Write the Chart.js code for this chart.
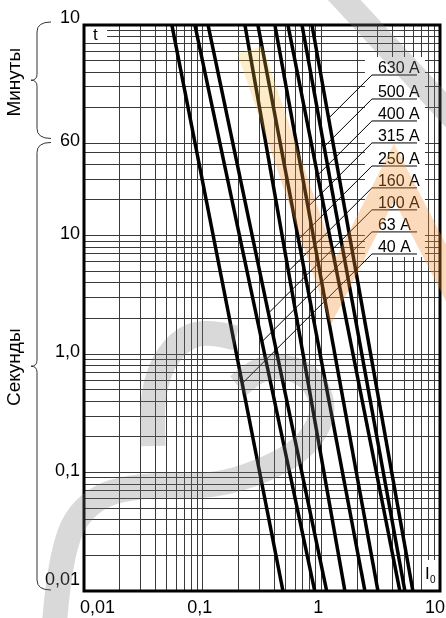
<!DOCTYPE html>
<html>
<head>
<meta charset="utf-8">
<script src="https://cdn.jsdelivr.net/npm/chart.js@4.4.1/dist/chart.umd.min.js"></script>
<style>
  html, body { margin: 0; padding: 0; background: #fff; }
  #wrap { width: 446px; height: 618px; }
</style>
</head>
<body>
<div id="wrap"><canvas id="chart" width="446" height="618"></canvas></div>
<script>
// Axis ranges: current in kA, time in seconds (600 s = 10 min)
const currentRange = [0.01, 10];
const timeRange = [0.01, 600];

// Melting curves: current (kA) at each time in curveTimes
const curveTimes = [600, 0.01];
const cur40 = [0.055, 0.475];
const cur63 = [0.086, 0.88];
const cur100 = [0.111, 1.11];
const cur160 = [0.227, 1.58];
const cur250 = [0.292, 2.33];
const cur315 = [0.406, 3.0];
const cur400 = [0.523, 4.59];
const cur500 = [0.687, 5.06];
const cur630 = [0.834, 5.91];

const ratingNames = ['40 A', '63 A', '100 A', '160 A', '250 A', '315 A', '400 A', '500 A', '630 A'];
const ratingCurves = [cur40, cur63, cur100, cur160, cur250, cur315, cur400, cur500, cur630];

// Label anchors (leader start on the underline) in data units
const labelTimes = [7.0, 10.75, 16.5, 25.3, 38.7, 60.6, 92.9, 142.4, 227];
const labelCurrent = 2.67;
const labelEndCurrent = 6.4;

// Tick labels
const xTickValues = [0.01, 0.1, 1, 10];
const xTickLabels = ['0,01', '0,1', '1', '10'];
const yTickValues = [600, 60, 10, 1, 0.1, 0.01];
const yTickLabels = ['10', '60', '10', '1,0', '0,1', '0,01'];

// Grid lines
const xGrid = [];
[0.01, 0.1, 1].forEach(d => { for (let m = 1; m <= 9; m++) xGrid.push(+(m * d).toPrecision(3)); });
xGrid.push(10);
const yGrid = [];
[0.01, 0.1, 1].forEach(d => { for (let m = 1; m <= 9; m++) yGrid.push(+(m * d).toPrecision(3)); });
[10, 20, 30, 40, 50].forEach(v => yGrid.push(v));
for (let m = 1; m <= 10; m++) yGrid.push(m * 60);

const FONT = '"Liberation Sans", Arial, sans-serif';

// where the 45-degree leader from (I, t) hits a curve (piecewise straight in log-log)
function leaderHit(curve, I, t) {
  const c = Math.log10(I) - Math.log10(t);
  for (let k = 0; k < curve.length - 1; k++) {
    const u0 = Math.log10(curveTimes[k]), u1 = Math.log10(curveTimes[k + 1]);
    const v0 = Math.log10(curve[k]), v1 = Math.log10(curve[k + 1]);
    const b = (v1 - v0) / (u1 - u0);
    const u = (c - v0 + b * u0) / (b - 1);
    if ((u - u0) * (u - u1) <= 0) {
      return { x: Math.pow(10, u + c), y: Math.pow(10, u) };
    }
  }
  return { x: I, y: t };
}

const datasets = [];
ratingCurves.forEach(curve => {
  datasets.push({
    data: curve.map((v, k) => ({ x: v, y: curveTimes[k] })),
    borderColor: '#000',
    borderWidth: 3.5,
    pointRadius: 0,
    borderCapStyle: 'butt'
  });
});
ratingCurves.forEach((curve, i) => {
  const hit = leaderHit(curve, labelCurrent, labelTimes[i]);
  datasets.push({
    data: [{ x: labelEndCurrent, y: labelTimes[i] }, { x: labelCurrent, y: labelTimes[i] }, hit],
    borderColor: '#000',
    borderWidth: 1,
    pointRadius: 0
  });
});

// smooth stroke through a list of points (watermark)
function smoothStroke(ctx, pts) {
  ctx.beginPath();
  ctx.moveTo(pts[0][0], pts[0][1]);
  for (let k = 1; k < pts.length - 1; k++) {
    const mx = (pts[k][0] + pts[k + 1][0]) / 2, my = (pts[k][1] + pts[k + 1][1]) / 2;
    ctx.quadraticCurveTo(pts[k][0], pts[k][1], mx, my);
  }
  const last = pts[pts.length - 1];
  ctx.lineTo(last[0], last[1]);
  ctx.stroke();
}

const decor = {
  id: 'decor',
  beforeDatasetsDraw(chart) {
    const { ctx, chartArea: a, scales: { x, y } } = chart;
    ctx.save();
    ctx.fillStyle = '#fff';
    // box behind the rating labels
    const lx = x.getPixelForValue(labelCurrent);
    const yTop = y.getPixelForValue(labelTimes[labelTimes.length - 1]) - 18;
    const yBot = y.getPixelForValue(labelTimes[0]) + 3;
    ctx.fillRect(lx - 7, yTop, 60, yBot - yTop);
    // box behind t and I0
    ctx.fillRect(a.left, a.top, 23, 15);
    ctx.fillRect(a.right - 17, a.bottom - 31, 17, 31);
    ctx.restore();
  },
  afterDatasetsDraw(chart) {
    const { ctx, chartArea: a, scales: { x, y } } = chart;
    ctx.save();
    // frame
    ctx.strokeStyle = '#000';
    ctx.lineWidth = 3;
    ctx.strokeRect(a.left, a.top, a.right - a.left, a.bottom - a.top);

    ctx.fillStyle = '#000';
    // rating labels
    ctx.font = '16px ' + FONT;
    ctx.textAlign = 'left';
    ctx.textBaseline = 'alphabetic';
    const lx = x.getPixelForValue(labelCurrent);
    ratingNames.forEach((n, i) => {
      ctx.fillText(n, lx + 6, y.getPixelForValue(labelTimes[i]) - 2);
    });

    // axis tick labels
    ctx.font = '18px ' + FONT;
    ctx.textBaseline = 'middle';
    xTickValues.forEach((v, i) => {
      let px = x.getPixelForValue(v);
      if (i === 0) { ctx.textAlign = 'left'; px -= 4; }
      else if (i === xTickValues.length - 1) { ctx.textAlign = 'right'; px += 5; }
      else { ctx.textAlign = 'center'; px -= 3; }
      ctx.fillText(xTickLabels[i], px, a.bottom + 17);
    });
    ctx.textAlign = 'right';
    yTickValues.forEach((v, i) => {
      let py = y.getPixelForValue(v);
      if (i === 0) py -= 7;
      else if (i === yTickValues.length - 1) py -= 11;
      else py -= 2;
      ctx.fillText(yTickLabels[i], a.left - 4, py);
    });

    // t and I0
    ctx.font = '17px ' + FONT;
    ctx.textAlign = 'left';
    ctx.fillText('t', a.left + 9, a.top + 10);
    ctx.fillText('I', a.right - 15, a.bottom - 17);
    ctx.font = '10px ' + FONT;
    ctx.fillText('0', a.right - 10, a.bottom - 11);

    // braces
    ctx.strokeStyle = '#333';
    ctx.lineWidth = 1;
    const bx = 37, ex = 51, tip = 31;
    function brace(y0, y1) {
      const m = (y0 + y1) / 2;
      ctx.beginPath();
      ctx.moveTo(ex, y0);
      ctx.quadraticCurveTo(bx, y0, bx, y0 + 10);
      ctx.lineTo(bx, m - 6);
      ctx.quadraticCurveTo(bx, m, tip, m);
      ctx.quadraticCurveTo(bx, m, bx, m + 6);
      ctx.lineTo(bx, y1 - 10);
      ctx.quadraticCurveTo(bx, y1, ex, y1);
      ctx.stroke();
    }
    const yMin = y.getPixelForValue(60);
    brace(y.getPixelForValue(600) - 3, yMin - 5);
    brace(yMin - 1, y.getPixelForValue(0.01) - 1);

    // axis titles
    ctx.font = '19px ' + FONT;
    ctx.textAlign = 'center';
    ctx.textBaseline = 'middle';
    ctx.translate(15, (y.getPixelForValue(600) + yMin) / 2 - 2);
    ctx.rotate(-Math.PI / 2);
    ctx.fillText('Минуты', 0, 0);
    ctx.setTransform(1, 0, 0, 1, 0, 0);
    ctx.translate(15, (yMin + y.getPixelForValue(0.01)) / 2);
    ctx.rotate(-Math.PI / 2);
    ctx.fillText('Секунды', 0, 0);
    ctx.restore();
  },
  afterDraw(chart) {
    // faint watermark strokes laid over the sheet
    const ctx = chart.ctx;
    ctx.save();
    ctx.lineJoin = 'miter';
    ctx.lineCap = 'butt';
    const g = ctx.createLinearGradient(0, 50, 0, 200);
    g.addColorStop(0, 'rgba(250, 200, 60, 0.25)');
    g.addColorStop(1, 'rgba(245, 140, 50, 0.33)');
    ctx.strokeStyle = g;
    ctx.lineWidth = 26;
    ctx.beginPath();
    ctx.moveTo(250, 50);
    ctx.lineTo(333, 292);
    ctx.lineTo(394, 172);
    ctx.lineTo(460, 300);
    ctx.stroke();

    ctx.strokeStyle = 'rgba(120, 120, 120, 0.28)';
    ctx.lineWidth = 24;
    ctx.beginPath();
    ctx.moveTo(335, -10);
    ctx.lineTo(460, 125);
    ctx.stroke();
    ctx.lineWidth = 25;
    smoothStroke(ctx, [[236, 338], [205, 330], [178, 342], [160, 368], [152, 402], [153, 446]]);
    smoothStroke(ctx, [[54, 630], [60, 545], [92, 496], [150, 484], [210, 487], [262, 472], [305, 448],
      [325, 414], [316, 382], [290, 366], [260, 368], [238, 386]]);
    ctx.restore();
  }
};

const gridColor = '#3a3a3a';

new Chart(document.getElementById('chart'), {
  type: 'line',
  data: { datasets },
  options: {
    responsive: false,
    animation: false,
    devicePixelRatio: 1,
    layout: { padding: { left: 84, right: 6, top: 25, bottom: 27 } },
    plugins: { legend: { display: false }, tooltip: { enabled: false } },
    elements: { line: { tension: 0 } },
    scales: {
      x: {
        type: 'logarithmic',
        min: currentRange[0],
        max: currentRange[1],
        afterBuildTicks: s => { s.ticks = xGrid.map(v => ({ value: v })); },
        ticks: { display: false },
        grid: { color: gridColor, lineWidth: 1, drawTicks: false },
        border: { display: false }
      },
      y: {
        type: 'logarithmic',
        min: timeRange[0],
        max: timeRange[1],
        afterBuildTicks: s => { s.ticks = yGrid.map(v => ({ value: v })); },
        ticks: { display: false },
        grid: { color: gridColor, lineWidth: 1, drawTicks: false },
        border: { display: false }
      }
    }
  },
  plugins: [decor]
});
</script>
</body>
</html>
